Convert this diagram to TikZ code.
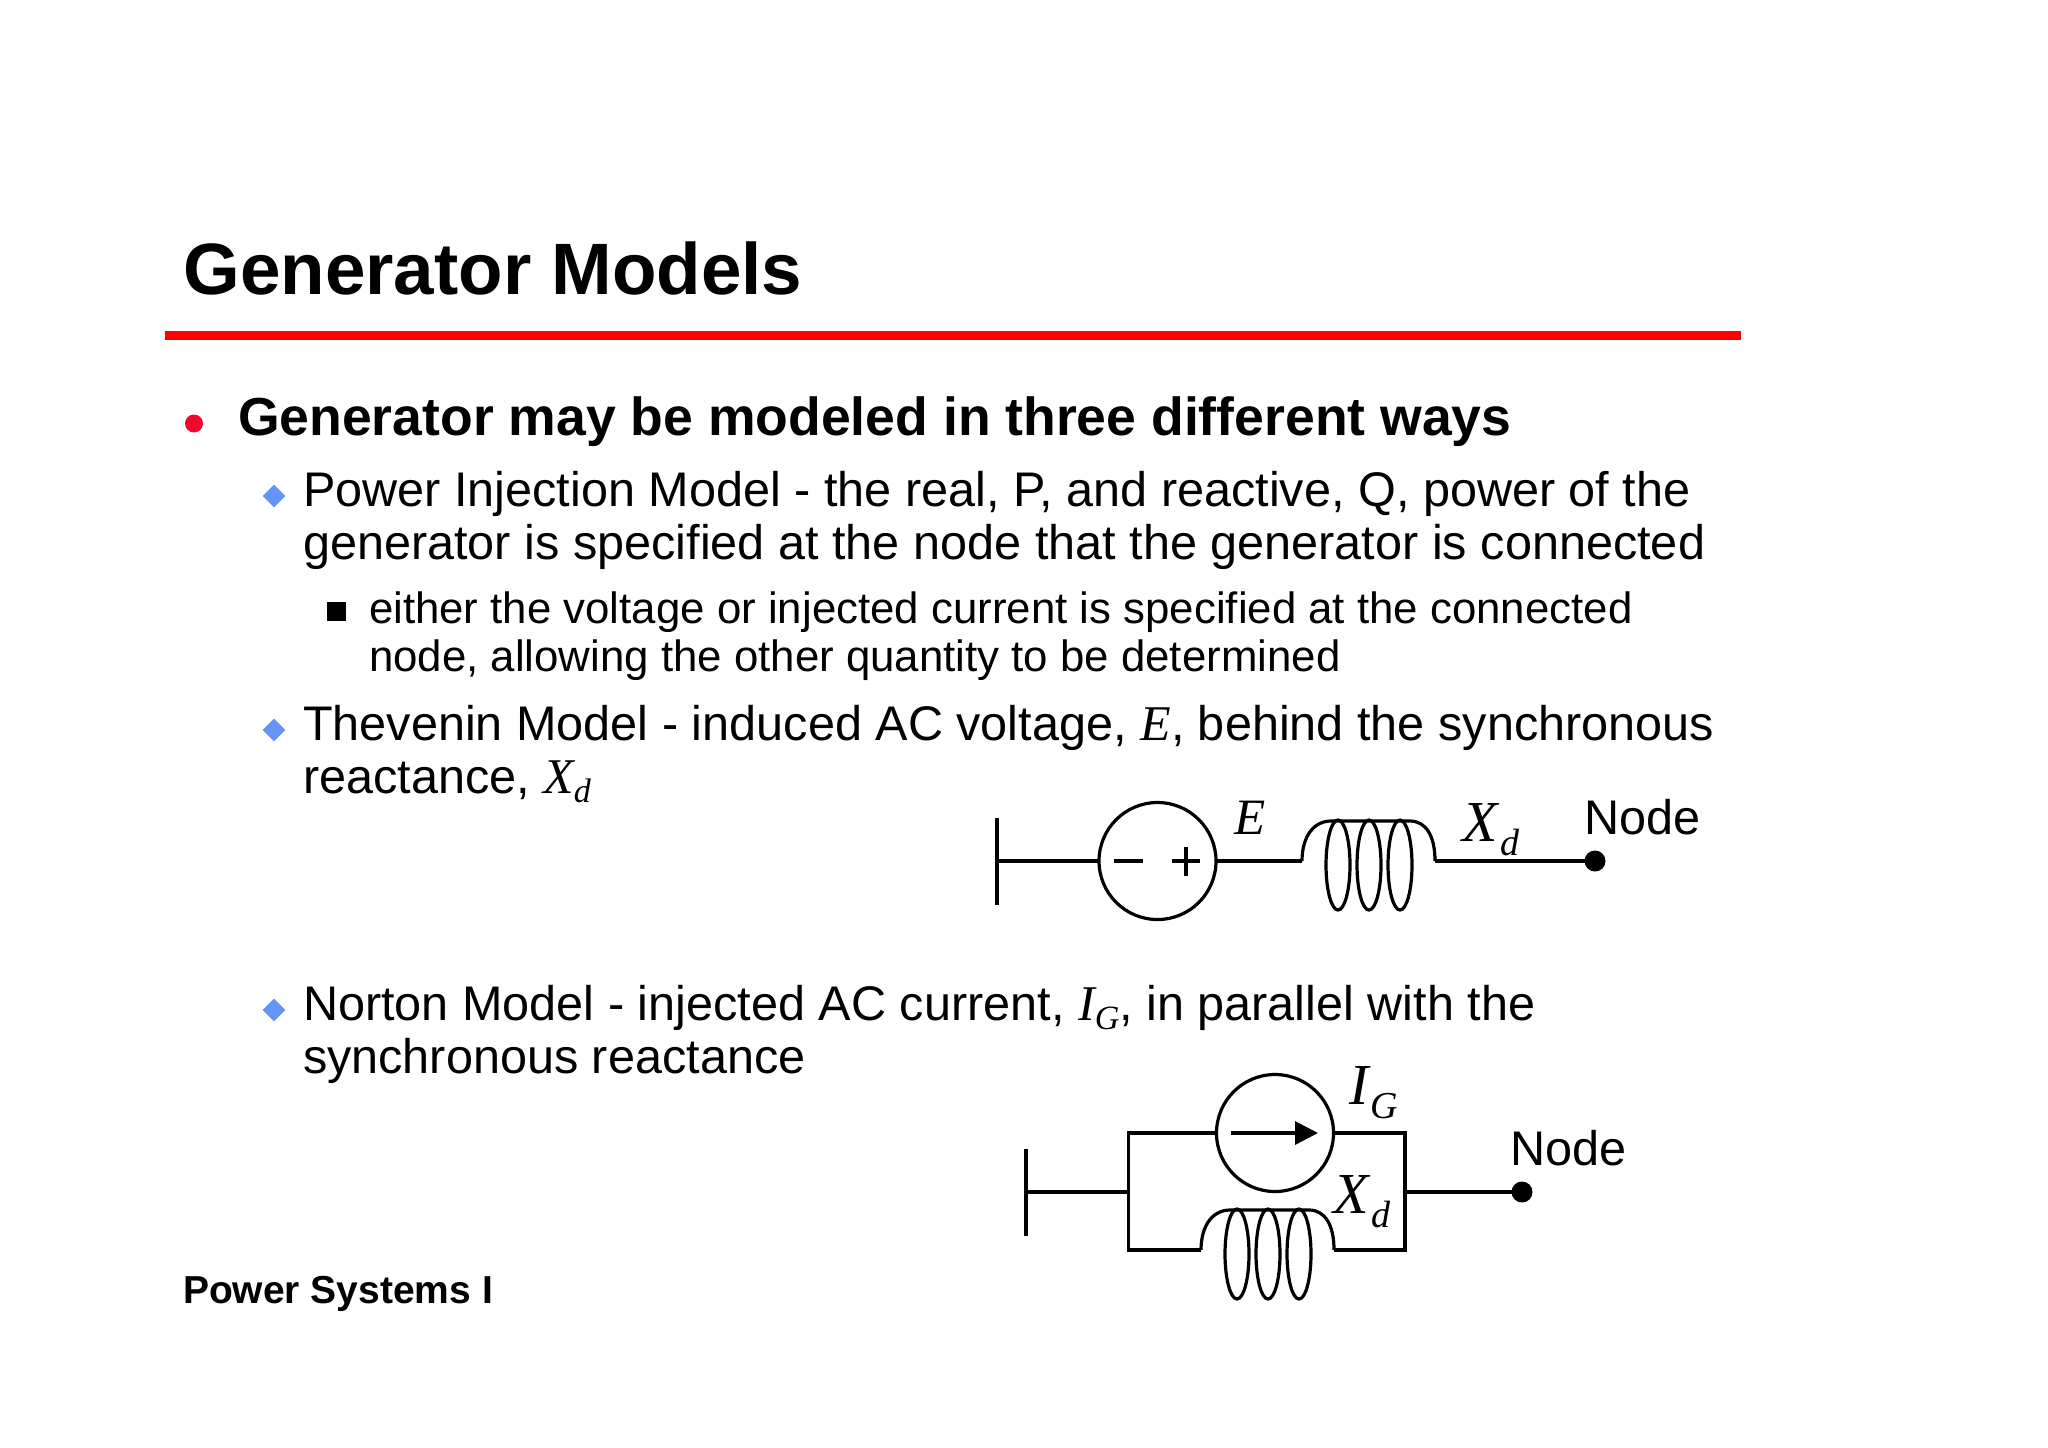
\documentclass[tikz,border=0pt]{standalone}
\usepackage{fontspec}
\setmainfont{Liberation Sans}
\newfontfamily\timesit[Ligatures=TeX]{Liberation Serif}
\usetikzlibrary{shapes.geometric,arrows.meta}
\newcommand{\vartext}[1]{{\fontsize{25}{25}\selectfont\timesit\itshape #1}}
\newcommand{\varsub}[2]{{\fontsize{25}{25}\selectfont\timesit\itshape #1\raisebox{-0.4ex}{\fontsize{17}{17}\selectfont #2}}}
\tikzset{
    wire/.style={line width=1.6pt},
    txt/.style={anchor=base west,inner sep=0pt,outer sep=0pt},
    titletxt/.style={txt,font=\fontsize{36.4}{40}\selectfont\bfseries},
    headtxt/.style={txt,font=\fontsize{26.77}{30}\selectfont\bfseries},
    bodytxt/.style={txt,font=\fontsize{24.3}{27}\selectfont},
    subtxt/.style={txt,font=\fontsize{21.9}{25}\selectfont},
    foottxt/.style={txt,font=\fontsize{19.5}{22}\selectfont\bfseries},
    symtxt/.style={txt,font=\fontsize{25.5}{28}\selectfont\timesit\itshape},
    bigsymtxt/.style={txt,font=\fontsize{29}{32}\selectfont\timesit\itshape},
    indextxt/.style={txt,font=\fontsize{19}{22}\selectfont\timesit\itshape},
    bulletred/.style={circle,fill=bulletr,inner sep=0pt,minimum size=9pt},
    bulletblue/.style={diamond,fill=bulletb,inner sep=0pt,minimum size=11.5pt},
    bulletsq/.style={rectangle,fill=black,inner sep=0pt,minimum size=9.5pt},
    source/.style={circle,draw,wire,inner sep=0pt,outer sep=0pt,minimum size=58.5pt},
    groundbar/.style={rectangle,fill=black,inner sep=0pt,outer sep=0pt,minimum width=1.6pt,minimum height=43.5pt},
    dot/.style={circle,fill=black,inner sep=0pt,outer sep=0pt,minimum size=10.5pt},
    coil/.pic={
        \coordinate (-w) at (0,0);
        \coordinate (-e) at (133,0);
        \draw[wire] (0,0) .. controls (0,-25) and (12,-40) .. (29,-40) -- (108,-40)
            .. controls (124,-40) and (133,-25) .. (133,0);
        \foreach \xc in {36,67,98}
            \draw[wire] (\xc,4) ellipse (12 and 45);
    }
}
\definecolor{bulletr}{HTML}{F5052D}
\definecolor{bulletb}{HTML}{6495F5}
\begin{document}
\begin{tikzpicture}[x=0.5pt,y=-0.5pt]
        \useasboundingbox (0,0) rectangle (2048,1447);

        \node[titletxt] (title) at (183.5,294) {Generator Models};
        \fill[red] (165,331) rectangle (1741,340);

        \node[bulletred] (b1) at (194,423.5) {};
        \node[headtxt] (head) at (238,435) {Generator may be modeled in three different ways};

        \node[bulletblue] (b2) at (274,496) {};
        \node[bodytxt] (p1) at (303,506) {Power Injection Model - the real, P, and reactive, Q, power of the};
        \node[bodytxt] (p2) at (303,559) {generator is specified at the node that the generator is connected};

        \node[bulletsq] (b3) at (336,611) {};
        \node[subtxt] (s1) at (369,623) {either the voltage or injected current is specified at the connected};
        \node[subtxt] (s2) at (369,671) {node, allowing the other quantity to be determined};

        \node[bulletblue] (b4) at (274,730) {};
        \node[bodytxt] (t1) at (303,740) {Thevenin Model - induced AC voltage, \vartext{E}, behind the synchronous};
        \node[bodytxt] (t2) at (303,793) {reactance, \varsub{X}{d}};

        \node[bulletblue] (b5) at (274,1010) {};
        \node[bodytxt] (n1) at (303,1020.5) {Norton Model - injected AC current, \varsub{I}{G}, in parallel with the};
        \node[bodytxt] (n2) at (303,1073.5) {synchronous reactance};

        \node[foottxt] (foot) at (183,1303) {Power Systems I};

        \node[groundbar] (tg) at (997,861) {};
        \node[source] (te) at (1157.5,861) {};
        \pic (tl) at (1302,861) {coil};
        \node[dot] (tn) at (1595,861) {};
        \path[wire]
        (tg) edge (te)
        (te) edge (tl-w)
        (tl-e) edge (tn);
        \draw[wire] (1114,861) -- (1143,861);
        \draw[wire] (1172,861) -- (1200,861) (1186,847) -- (1186,876);
        \node[symtxt] (tlabe) at (1234,834) {E};
        \node[bigsymtxt] (tlabx) at (1462,841) {X};
        \node[indextxt] (tlabd) at (1500,855) {d};
        \node[bodytxt] (tlabn) at (1584,834) {Node};

        \node[groundbar] (ng) at (1026,1192) {};
        \coordinate (nj) at (1128.5,1192);
        \coordinate (nk) at (1405,1192);
        \node[source] (ni) at (1275,1133) {};
        \pic (nl) at (1201,1250) {coil};
        \node[dot] (nn) at (1522,1192) {};
        \path[wire]
        (ng) edge (nj)
        (nk) edge (nn);
        \draw[wire,line join=miter] (ni.west) -| (nj) |- (nl-w);
        \draw[wire,line join=miter] (ni.east) -| (nk) |- (nl-e);
        \coordinate (nas) at (1231,1133);
        \coordinate (nat) at (1318,1133);
        \draw[wire,-{Triangle[length=11.5pt,width=11.5pt]}] (nas) -- (nat);
        \node[bigsymtxt] (nlabi) at (1349,1104) {I};
        \node[indextxt] (nlabg) at (1370,1118) {G};
        \node[bigsymtxt] (nlabx) at (1333,1213) {X};
        \node[indextxt] (nlabd) at (1371,1227) {d};
        \node[bodytxt] (nlabn) at (1510,1165) {Node};
\end{tikzpicture}
\end{document}
